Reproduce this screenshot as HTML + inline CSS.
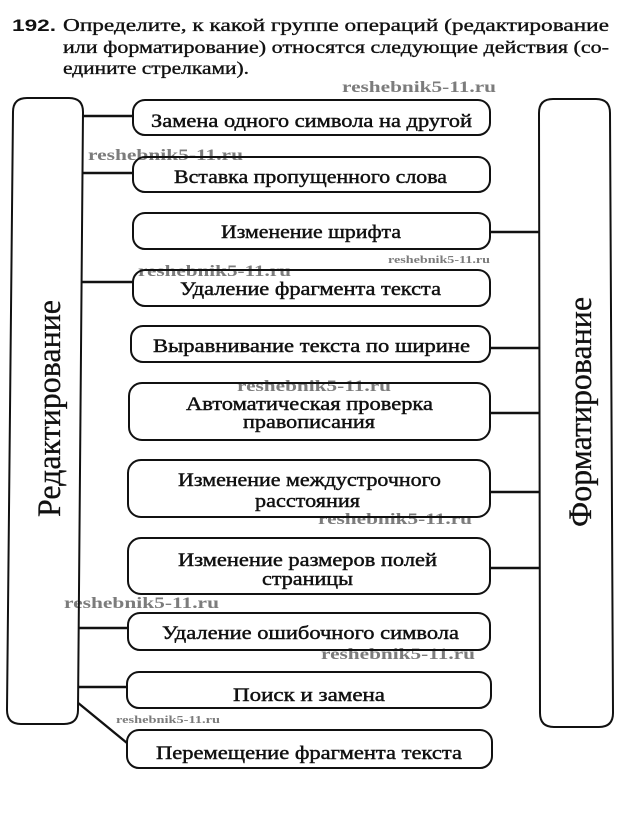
<!DOCTYPE html>
<html>
<head>
<meta charset="utf-8">
<style>
  html, body { margin: 0; padding: 0; background: #fff; }
  svg { display: block; }
  .t { font-family: "Liberation Serif", "Noto Serif CJK SC", serif; fill: #111; stroke: #111; stroke-width: 0.35; }
  .v { font-family: "Liberation Serif", "Noto Serif CJK SC", serif; fill: #111; stroke: #111; stroke-width: 0.3; }
  .b { font-family: "Liberation Serif", "Noto Serif CJK SC", serif; font-size: 19px; fill: #111; stroke: #111; stroke-width: 0.45; }
  .wm { font-family: "Liberation Serif", serif; font-weight: bold; fill: #7c7c7c; }
  .box { fill: none; stroke: #111; stroke-width: 2; }
  .ln { stroke: #111; stroke-width: 2.4; fill: none; }
</style>
</head>
<body>
<svg width="633" height="821" viewBox="0 0 633 821" xmlns="http://www.w3.org/2000/svg">
  <rect width="633" height="821" fill="#fff"/>

  <!-- Title -->
  <text x="12" y="31" font-family="Liberation Sans, sans-serif" font-weight="bold" font-size="17" fill="#111" textLength="44" lengthAdjust="spacingAndGlyphs">192.</text>
  <text class="t" x="63" y="31" font-size="17.5" textLength="546" lengthAdjust="spacingAndGlyphs">Определите, к какой группе операций (редактирование</text>
  <text class="t" x="63" y="53" font-size="17.5" textLength="546" lengthAdjust="spacingAndGlyphs">или форматирование) относятся следующие действия (со-</text>
  <text class="t" x="63" y="74" font-size="17.5" textLength="186" lengthAdjust="spacingAndGlyphs">едините стрелками).</text>

  <!-- Watermarks -->
  <text class="wm" x="342" y="92" font-size="16" textLength="154" lengthAdjust="spacingAndGlyphs">reshebnik5-11.ru</text>
  <text class="wm" x="88" y="160" font-size="16" textLength="155" lengthAdjust="spacingAndGlyphs">reshebnik5-11.ru</text>
  <text class="wm" x="388" y="263" font-size="11" textLength="102" lengthAdjust="spacingAndGlyphs">reshebnik5-11.ru</text>
  <text class="wm" x="138" y="276" font-size="16" textLength="153" lengthAdjust="spacingAndGlyphs">reshebnik5-11.ru</text>
  <text class="wm" x="237" y="391" font-size="16" textLength="154" lengthAdjust="spacingAndGlyphs">reshebnik5-11.ru</text>
  <text class="wm" x="318" y="524" font-size="16" textLength="154" lengthAdjust="spacingAndGlyphs">reshebnik5-11.ru</text>
  <text class="wm" x="64" y="608" font-size="16" textLength="155" lengthAdjust="spacingAndGlyphs">reshebnik5-11.ru</text>
  <text class="wm" x="321" y="659" font-size="16" textLength="154" lengthAdjust="spacingAndGlyphs">reshebnik5-11.ru</text>
  <text class="wm" x="116" y="723" font-size="11" textLength="104" lengthAdjust="spacingAndGlyphs">reshebnik5-11.ru</text>

  <!-- Big side boxes -->
  <path class="box" d="M 27,98 L 69,98 Q 83,98 83,112 L 78,710 Q 78,724 64,724 L 21,724 Q 7,724 7,710 L 13,112 Q 13,98 27,98 Z"/>
  <path class="box" d="M 553,99 L 596,99 Q 610,99 610,113 L 613,713 Q 613,727 599,727 L 554,727 Q 540,727 540,713 L 539,113 Q 539,99 553,99 Z"/>

  <text class="v" transform="translate(60,517) rotate(-90)" font-size="33" textLength="217" lengthAdjust="spacingAndGlyphs">Редактирование</text>
  <text class="v" transform="translate(591,527) rotate(-90)" font-size="33" textLength="230" lengthAdjust="spacingAndGlyphs">Форматирование</text>

  <!-- Left connectors -->
  <line class="ln" x1="83" y1="116" x2="133" y2="116"/>
  <line class="ln" x1="82.4" y1="173" x2="133" y2="173"/>
  <line class="ln" x1="81.5" y1="282" x2="133" y2="282"/>
  <line class="ln" x1="78.8" y1="628" x2="128" y2="628"/>
  <line class="ln" x1="78.3" y1="687" x2="127" y2="687"/>
  <line class="ln" x1="78.2" y1="703" x2="127" y2="743"/>

  <!-- Right connectors -->
  <line class="ln" x1="490" y1="232" x2="540" y2="232"/>
  <line class="ln" x1="490" y1="348" x2="540" y2="348"/>
  <line class="ln" x1="490" y1="413" x2="540" y2="413"/>
  <line class="ln" x1="490" y1="492" x2="540" y2="492"/>
  <line class="ln" x1="490" y1="568" x2="540" y2="568"/>

  <!-- Item boxes -->
  <rect class="box" x="133" y="100" width="357" height="35" rx="12"/>
  <rect class="box" x="133" y="157" width="357" height="35" rx="12"/>
  <rect class="box" x="133" y="213" width="357" height="36" rx="12"/>
  <rect class="box" x="133" y="270" width="357" height="36" rx="12"/>
  <rect class="box" x="131" y="326" width="359" height="36" rx="12"/>
  <rect class="box" x="129" y="383" width="361" height="57" rx="13"/>
  <rect class="box" x="128" y="460" width="362" height="57" rx="13"/>
  <rect class="box" x="128" y="538" width="362" height="56" rx="13"/>
  <rect class="box" x="128" y="613" width="362" height="37" rx="12"/>
  <rect class="box" x="127" y="672" width="364" height="36" rx="12"/>
  <rect class="box" x="127" y="730" width="365" height="38" rx="12"/>

  <!-- Item labels -->
  <text class="b" x="311.5" y="127" text-anchor="middle" textLength="321" lengthAdjust="spacingAndGlyphs">Замена одного символа на другой</text>
  <text class="b" x="310.5" y="183" text-anchor="middle" textLength="273" lengthAdjust="spacingAndGlyphs">Вставка пропущенного слова</text>
  <text class="b" x="311" y="238" text-anchor="middle" textLength="180" lengthAdjust="spacingAndGlyphs">Изменение шрифта</text>
  <text class="b" x="310.5" y="295" text-anchor="middle" textLength="261" lengthAdjust="spacingAndGlyphs">Удаление фрагмента текста</text>
  <text class="b" x="311.5" y="352" text-anchor="middle" textLength="317" lengthAdjust="spacingAndGlyphs">Выравнивание текста по ширине</text>
  <text class="b" x="309.5" y="410" text-anchor="middle" textLength="247" lengthAdjust="spacingAndGlyphs">Автоматическая проверка</text>
  <text class="b" x="309" y="428" text-anchor="middle" textLength="132" lengthAdjust="spacingAndGlyphs">правописания</text>
  <text class="b" x="309.5" y="486" text-anchor="middle" textLength="263" lengthAdjust="spacingAndGlyphs">Изменение междустрочного</text>
  <text class="b" x="307.5" y="507" text-anchor="middle" textLength="105" lengthAdjust="spacingAndGlyphs">расстояния</text>
  <text class="b" x="307.5" y="566" text-anchor="middle" textLength="259" lengthAdjust="spacingAndGlyphs">Изменение размеров полей</text>
  <text class="b" x="307.5" y="585" text-anchor="middle" textLength="91" lengthAdjust="spacingAndGlyphs">страницы</text>
  <text class="b" x="310.5" y="639" text-anchor="middle" textLength="297" lengthAdjust="spacingAndGlyphs">Удаление ошибочного символа</text>
  <text class="b" x="309" y="701" text-anchor="middle" textLength="152" lengthAdjust="spacingAndGlyphs">Поиск и замена</text>
  <text class="b" x="309" y="759" text-anchor="middle" textLength="306" lengthAdjust="spacingAndGlyphs">Перемещение фрагмента текста</text>
</svg>
</body>
</html>
